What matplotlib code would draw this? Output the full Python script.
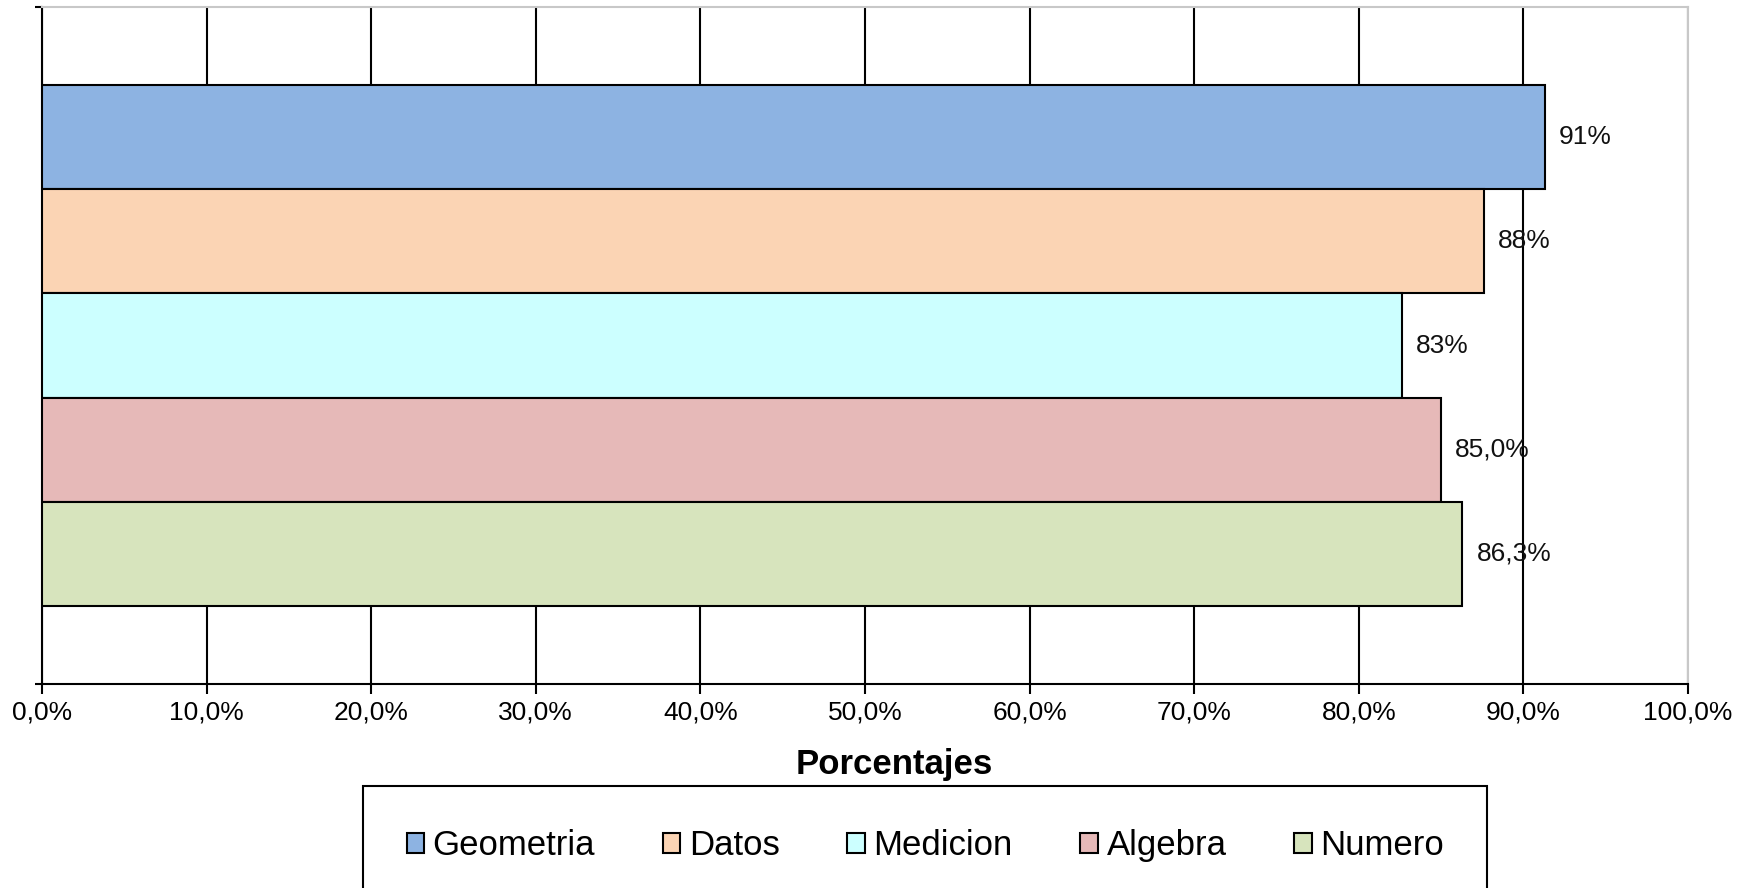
import numpy as np
import matplotlib.pyplot as plt
from matplotlib.ticker import FuncFormatter

plt.rcParams['font.family'] = ['Liberation Sans', 'DejaVu Sans']

# data (percent)
series = ['Geometria', 'Datos', 'Medicion', 'Algebra', 'Numero']
values = [91.3, 87.6, 82.6, 85.0, 86.3]
labels = ['91%', '88%', '83%', '85,0%', '86,3%']
colors = ['#8DB3E2', '#FBD4B4', '#CCFFFF', '#E6B9B8', '#D7E4BD']
xticks = np.arange(0, 101, 10)

fig = plt.figure(figsize=(17.54, 8.88), dpi=100)
ax = fig.add_axes([42 / 1754, 1 - 684 / 888, 1646 / 1754, 677 / 888])

pos = np.arange(len(series))
bars = []
for i, (name, v, c) in enumerate(zip(series, values, colors)):
    b = ax.barh(pos[i], v, height=1.0, color=c, edgecolor='black',
                linewidth=1.5, label=name, zorder=3)
    bars.append(b)
    ax.annotate(labels[i], xy=(v, pos[i]), xytext=(10, 0),
                textcoords='offset points', ha='left', va='center',
                fontsize=19, color='#111111', zorder=4)

ax.set_xlim(0, 100)
ax.set_ylim(5.25, -1.25)
ax.set_xticks(xticks)
ax.xaxis.set_major_formatter(FuncFormatter(lambda x, p: f'{x:.1f}%'.replace('.', ',')))
ax.set_yticks([5.25, -1.25])
ax.set_yticklabels([])
ax.tick_params(axis='x', direction='out', length=7, width=1.5, pad=5,
               labelsize=19, colors='black')
ax.tick_params(axis='y', direction='out', length=5, width=1.5)
ax.grid(axis='x', color='black', linewidth=1.5, zorder=0)
ax.set_axisbelow(True)

for s in ['left', 'bottom']:
    ax.spines[s].set_color('black')
    ax.spines[s].set_linewidth(1.5)
for s in ['top', 'right']:
    ax.spines[s].set_color('#C8C8C8')
    ax.spines[s].set_linewidth(1.5)

ax.set_xlabel('Porcentajes', fontsize=25, fontweight='bold')
ax.xaxis.set_label_coords(0.518, -0.094)

leg = fig.legend(handles=bars, labels=series, loc='upper center',
                 bbox_to_anchor=(0.5275, 1 - 786 / 888), ncol=5, fontsize=25,
                 frameon=True, fancybox=False, edgecolor='black', framealpha=1,
                 handlelength=0.5, handleheight=0.5, handletextpad=0.25,
                 columnspacing=1.95, borderpad=1.25, borderaxespad=0)
leg.get_frame().set_linewidth(1.5)
for h in leg.legend_handles:
    h.set_linewidth(1.5)

fig.savefig('out.png', dpi=100)
